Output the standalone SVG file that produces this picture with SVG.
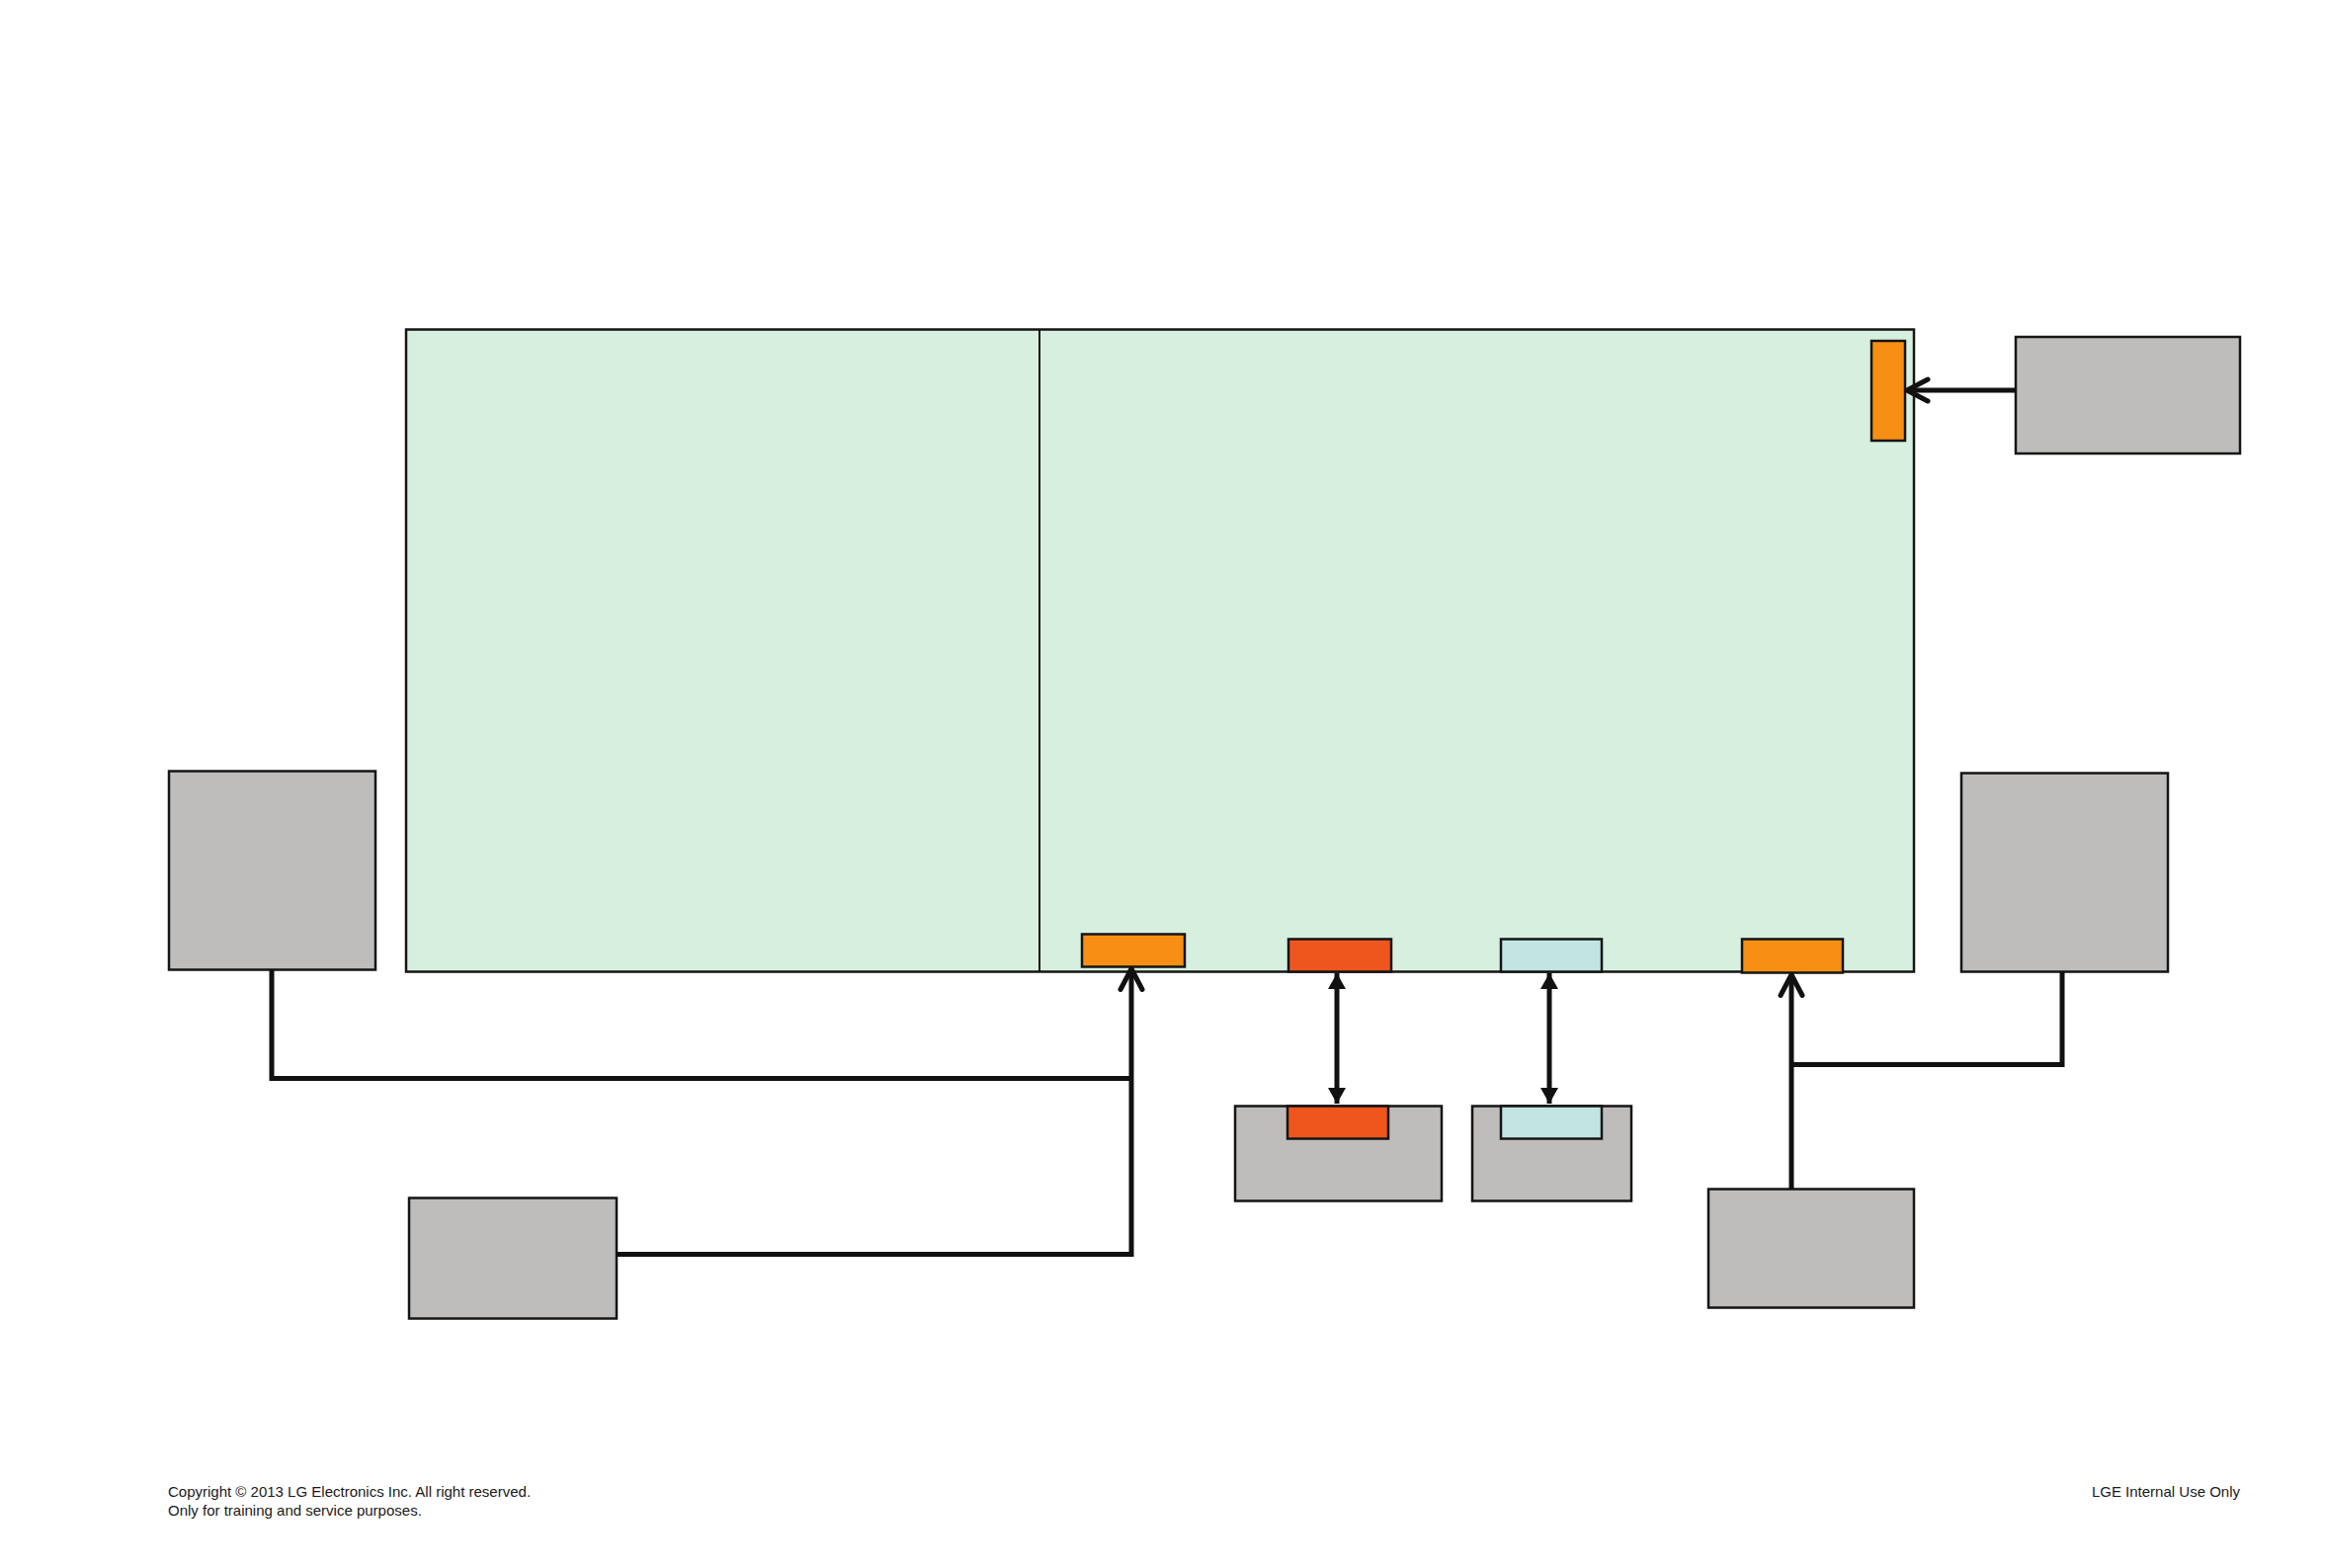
<svg xmlns="http://www.w3.org/2000/svg" width="2353" height="1587" viewBox="0 0 2353 1587">
<style>
.board{fill:#d7efdf;stroke:#151515;stroke-width:2.5}
.gray{fill:#bebdbb;stroke:#151515;stroke-width:2.5}
.orange{fill:#f68f14;stroke:#151515;stroke-width:2.5}
.red{fill:#ef561d;stroke:#151515;stroke-width:2.5}
.blue{fill:#c0e5e3;stroke:#151515;stroke-width:2.5}
.wire{fill:none;stroke:#111;stroke-width:5}
.bus{fill:none;stroke:#111;stroke-width:5}
.foot{font-family:"Liberation Sans",Arial,sans-serif;font-size:15px;fill:#1a1a1a}
</style>
<defs>
<marker id="open" markerUnits="userSpaceOnUse" markerWidth="34" markerHeight="34" refX="25" refY="14" orient="auto">
<path d="M4,3 L25,14 L4,25" fill="none" stroke="#111" stroke-width="5" stroke-linecap="round" stroke-linejoin="round"/>
</marker>
<marker id="tri" markerUnits="userSpaceOnUse" markerWidth="20" markerHeight="20" refX="16" refY="9" orient="auto-start-reverse">
<path d="M0,0 L16,9 L0,18 Z" fill="#111"/>
</marker>
</defs>
<g id="board">
<rect class="board" x="411" y="333.5" width="1526" height="650"/>
<line x1="1052" y1="333.5" x2="1052" y2="983.5" stroke="#151515" stroke-width="2"/>
</g>
<g id="port-top-right"><rect class="orange" x="1894" y="345" width="34" height="101"/></g>
<g id="port-orange-1"><rect class="orange" x="1095" y="945.5" width="104" height="33"/></g>
<g id="port-red"><rect class="red" x="1304" y="950.5" width="104" height="33"/></g>
<g id="port-blue"><rect class="blue" x="1519" y="950.5" width="102" height="33"/></g>
<g id="port-orange-2"><rect class="orange" x="1763" y="950.5" width="102" height="34"/></g>
<g id="box-top-right"><rect class="gray" x="2040" y="341" width="227" height="118"/></g>
<g id="box-left"><rect class="gray" x="171" y="780.5" width="209" height="201"/></g>
<g id="box-right"><rect class="gray" x="1985" y="782.5" width="209" height="201"/></g>
<g id="box-red">
<rect class="gray" x="1250" y="1119.5" width="209" height="96"/>
<rect class="red" x="1303" y="1119.5" width="102" height="33"/>
</g>
<g id="box-blue">
<rect class="gray" x="1490" y="1119.5" width="161" height="96"/>
<rect class="blue" x="1519" y="1119.5" width="102" height="33"/>
</g>
<g id="box-bottom-right"><rect class="gray" x="1729" y="1203.5" width="208" height="120"/></g>
<g id="box-bottom-left"><rect class="gray" x="414" y="1212.5" width="210" height="122"/></g>
<g id="connectors">
<path class="wire" d="M275,981.5 V1091.5 H1145"/>
<path class="wire" d="M624,1269.5 H1145 V980.5" marker-end="url(#open)"/>
<path class="bus" d="M1353,985 V1117" marker-start="url(#tri)" marker-end="url(#tri)"/>
<path class="bus" d="M1568,985 V1117" marker-start="url(#tri)" marker-end="url(#tri)"/>
<path class="wire" d="M1813,1203.5 V986.5" marker-end="url(#open)"/>
<path class="wire" d="M2087,983.5 V1077.5 H1813"/>
<path class="wire" d="M2040,395 H1930" marker-end="url(#open)"/>
</g>
<g id="footer">
<text class="foot" x="170" y="1515">Copyright © 2013 LG Electronics Inc. All right reserved.</text>
<text class="foot" x="170" y="1534">Only for training and service purposes.</text>
<text class="foot" x="2267" y="1515" text-anchor="end">LGE Internal Use Only</text>
</g>
</svg>
